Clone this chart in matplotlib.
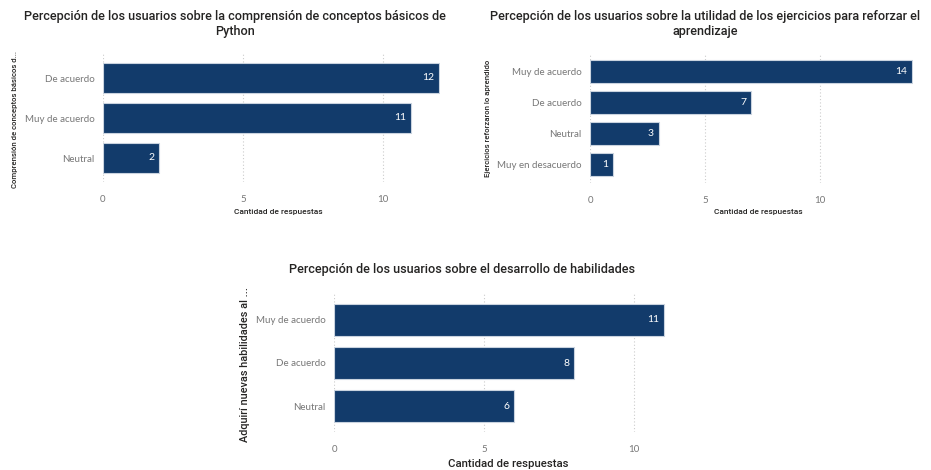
import matplotlib

matplotlib.use("Agg")

import matplotlib.pyplot as plt  # noqa: E402

W, H = 931, 470

BAR_COLOR = "#123b6b"
EDGE_COLOR = "#c9d3df"
TITLE_INK = "#252423"
TICK_INK = "#777777"
GRID_COLOR = "#cccccc"

# chart 1
cats1 = ["De acuerdo", "Muy de acuerdo", "Neutral"]
vals1 = [12, 11, 2]
title1 = "Percepción de los usuarios sobre la comprensión de conceptos básicos de\nPython"
ylab1 = "Comprensión de conceptos básicos d..."

# chart 2
cats2 = ["Muy de acuerdo", "De acuerdo", "Neutral", "Muy en desacuerdo"]
vals2 = [14, 7, 3, 1]
title2 = "Percepción de los usuarios sobre la utilidad de los ejercicios para reforzar el\naprendizaje"
ylab2 = "Ejercicios reforzaron lo aprendido"

# chart 3
cats3 = ["Muy de acuerdo", "De acuerdo", "Neutral"]
vals3 = [11, 8, 6]
title3 = "Percepción de los usuarios sobre el desarrollo de habilidades"
ylab3 = "Adquirí nuevas habilidades al ..."

xlabel = "Cantidad de respuestas"
xticks = [0, 5, 10]

plt.rcParams["font.family"] = ["Lato", "DejaVu Sans"]
fig = plt.figure(figsize=(W / 100, H / 100), dpi=100)


def px_axes(left, top, right, bottom):
    return fig.add_axes([left / W, 1 - bottom / H, (right - left) / W, (bottom - top) / H])


def bar_panel(ax, cats, vals, xmax, px_per_unit, tick_size, label_size):
    ax.barh(range(len(cats)), vals, height=0.75, color=BAR_COLOR,
            edgecolor=EDGE_COLOR, linewidth=0.8, zorder=2)
    ax.set_ylim(len(cats) - 0.4, -0.6)
    ax.set_xlim(0, xmax)
    ax.set_yticks(range(len(cats)))
    ax.set_yticklabels(cats, fontsize=tick_size, color=TICK_INK)
    ax.set_xticks(xticks)
    ax.set_xticklabels([str(t) for t in xticks], fontsize=tick_size, color=TICK_INK)
    ax.tick_params(length=0, pad=6)
    ax.tick_params(axis="x", pad=9)
    ax.grid(axis="x", color=GRID_COLOR, linestyle=(0, (1, 2)), linewidth=0.8)
    ax.set_axisbelow(True)
    for s in ax.spines.values():
        s.set_visible(False)
    off = 5 / px_per_unit
    for i, v in enumerate(vals):
        ax.text(v - off, i, str(v), ha="right", va="center", color="white",
                fontsize=label_size, zorder=3)


ax1 = px_axes(103, 54, 103 + 12.05 * 28, 182)
bar_panel(ax1, cats1, vals1, 12.05, 28, 7, 7.5)
ax2 = px_axes(590, 53, 590 + 14.05 * 23, 183)
bar_panel(ax2, cats2, vals2, 14.05, 23, 7, 7.5)
ax3 = px_axes(334, 294, 334 + 11.05 * 30, 432)
bar_panel(ax3, cats3, vals3, 11.05, 30, 7, 7.5)

tfont = ["Roboto", "DejaVu Sans"]
fig.text(235 / W, 1 - 24 / H, title1, ha="center", va="center", fontsize=9.1,
         color=TITLE_INK, family=tfont, linespacing=1.15, weight="medium")
fig.text(705 / W, 1 - 24 / H, title2, ha="center", va="center", fontsize=9.1,
         color=TITLE_INK, family=tfont, linespacing=1.15, weight="medium")
fig.text(462 / W, 1 - 270 / H, title3, ha="center", va="center", fontsize=9.1,
         color=TITLE_INK, family=tfont, weight="medium")

fig.text(278 / W, 1 - 212 / H, xlabel, ha="center", va="center", fontsize=6,
         color=TITLE_INK, family=tfont, weight="medium")
fig.text(758 / W, 1 - 212 / H, xlabel, ha="center", va="center", fontsize=6,
         color=TITLE_INK, family=tfont, weight="medium")
fig.text(508 / W, 1 - 464 / H, xlabel, ha="center", va="center", fontsize=8.2,
         color=TITLE_INK, family=tfont, weight="medium")

fig.text(15 / W, 1 - 120 / H, ylab1, ha="center", va="center", rotation=90,
         fontsize=5.6, color=TITLE_INK, family=tfont, weight="medium")
fig.text(488 / W, 1 - 118 / H, ylab2, ha="center", va="center", rotation=90,
         fontsize=5.6, color=TITLE_INK, family=tfont, weight="medium")
fig.text(245 / W, 1 - 365 / H, ylab3, ha="center", va="center", rotation=90,
         fontsize=7.8, color=TITLE_INK, family=tfont, weight="medium")

fig.savefig("out.png", dpi=100, facecolor="white")
